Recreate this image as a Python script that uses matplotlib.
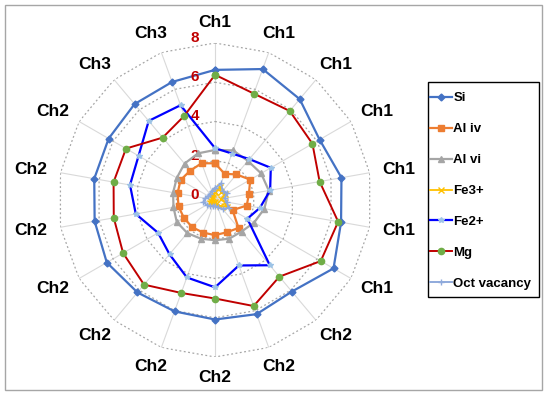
import numpy as np
import matplotlib
matplotlib.use('Agg')
import matplotlib.pyplot as plt
from matplotlib.patches import Rectangle

categories = ['Ch1'] * 7 + ['Ch2'] * 9 + ['Ch3'] * 2
radial_ticks = [0, 2, 4, 6, 8]

si = [6.63, 7.10, 6.71, 6.15, 6.54, 6.52, 6.97, 6.09, 6.19, 6.09, 6.04, 6.15, 6.37, 6.23, 6.25, 6.26, 6.38, 6.40]
al_iv = [1.87, 1.42, 1.70, 2.07, 1.75, 1.64, 1.03, 1.86, 1.75, 1.79, 1.77, 1.81, 1.83, 1.89, 1.94, 2.03, 1.96, 1.99]
al_vi = [2.55, 2.69, 2.60, 2.71, 2.78, 2.55, 2.30, 2.10, 2.10, 2.05, 2.10, 2.20, 2.25, 2.15, 2.17, 2.25, 2.42, 2.53]
fe3 = [0.40, 0.70, 0.50, 0.60, 0.30, 0.50, 0.70, 0.40, 0.20, 0.10, 0.15, 0.20, 0.30, 0.20, 0.15, 0.20, 0.20, 0.30]
fe2 = [2.64, 2.52, 2.72, 3.28, 2.85, 2.32, 1.90, 4.34, 3.55, 4.45, 4.20, 3.61, 3.35, 4.10, 4.40, 4.50, 5.26, 5.14]
mg = [6.38, 5.77, 5.92, 5.73, 5.41, 6.37, 6.22, 5.10, 5.75, 5.02, 5.04, 5.63, 5.41, 5.24, 5.25, 5.24, 4.15, 4.57]
oct_vac = [0.60, 0.90, 0.60, 0.70, 0.50, 0.60, 0.80, 0.60, 0.40, 0.30, 0.30, 0.40, 0.50, 0.60, 0.50, 0.40, 0.40, 0.50]

series = [
    ('Si', si, dict(color='#4472C4', marker='D', ms=3.5, mfc='#4472C4', mec='#4472C4', lw=1.6)),
    ('Al iv', al_iv, dict(color='#ED7D31', marker='s', ms=4.5, mfc='#ED7D31', mec='#ED7D31', lw=1.6)),
    ('Al vi', al_vi, dict(color='#A5A5A5', marker='^', ms=4.5, mfc='#A5A5A5', mec='#A5A5A5', lw=1.6)),
    ('Fe3+', fe3, dict(color='#FFC000', marker='x', ms=4, mfc='#FFC000', mec='#FFC000', lw=1.3)),
    ('Fe2+', fe2, dict(color='#0000FF', marker='*', ms=4, mfc='#9DC3E6', mec='#9DC3E6', lw=1.6)),
    ('Mg', mg, dict(color='#C00000', marker='o', ms=4.5, mfc='#70AD47', mec='#70AD47', lw=1.4)),
    ('Oct vacancy', oct_vac, dict(color='#8FAADC', marker='+', ms=4, mfc='#8FAADC', mec='#8FAADC', lw=1.4)),
]

plt.rcParams['font.family'] = ['Liberation Sans', 'DejaVu Sans']

fig = plt.figure(figsize=(5.5, 3.94), dpi=100)
ax = fig.add_axes([0.1055, 0.0939, 0.571, 0.797], projection='polar')
ax.set_theta_offset(np.pi / 2)
ax.set_theta_direction(-1)
ax.set_ylim(0, 8)
ax.grid(False)
ax.spines['polar'].set_visible(False)
ax.set_xticks([])
ax.set_yticks([])
ax.patch.set_alpha(0)

N = len(categories)
theta = np.arange(N) * 2 * np.pi / N
theta_c = np.append(theta, theta[0])

for t in theta:
    ax.plot([t, t], [0, 8], color='#D9D9D9', lw=0.8, zorder=1)
for r in radial_ticks[1:]:
    ax.plot(theta_c, [r] * (N + 1), color='#A6A6A6', lw=0.9, ls=(0, (1.5, 2)), zorder=1)

r_edge = 8 * 170 / 157
for t, c in zip(theta, categories):
    ax.annotate(c, xy=(t, r_edge), xytext=(17 * np.sin(t), 7 * np.cos(t)), textcoords='offset pixels',
                ha='center', va='center', fontsize=12.5, fontweight='bold', color='black',
                annotation_clip=False)

for v in radial_ticks:
    ax.annotate(str(v), xy=(0, v), xytext=(-20, 5), textcoords='offset pixels',
                ha='center', va='center', color='#C00000', fontsize=11, fontweight='bold', zorder=5)

handles = []
for i, (name, vals, st) in enumerate(series):
    ln, = ax.plot(theta_c, list(vals) + [vals[0]], zorder=3 + i, clip_on=False, **st)
    handles.append(ln)

leg = fig.legend(handles, [s[0] for s in series], loc='upper left',
                 bbox_to_anchor=(428 / 550, 1 - 90 / 394), frameon=False,
                 prop=dict(weight='bold', size=9.5), handlelength=1.67,
                 handletextpad=0.1, labelspacing=1.42, borderpad=0.15, borderaxespad=0)

fig.add_artist(Rectangle((428 / 550, 1 - 297 / 394), 111 / 550, 215 / 394, transform=fig.transFigure,
                         fill=False, edgecolor='black', lw=1.0))
fig.add_artist(Rectangle((5 / 550, 1 - 390 / 394), 537 / 550, 385 / 394, transform=fig.transFigure,
                         fill=False, edgecolor='#A6A6A6', lw=1.0))

fig.savefig('out.png', dpi=100)
